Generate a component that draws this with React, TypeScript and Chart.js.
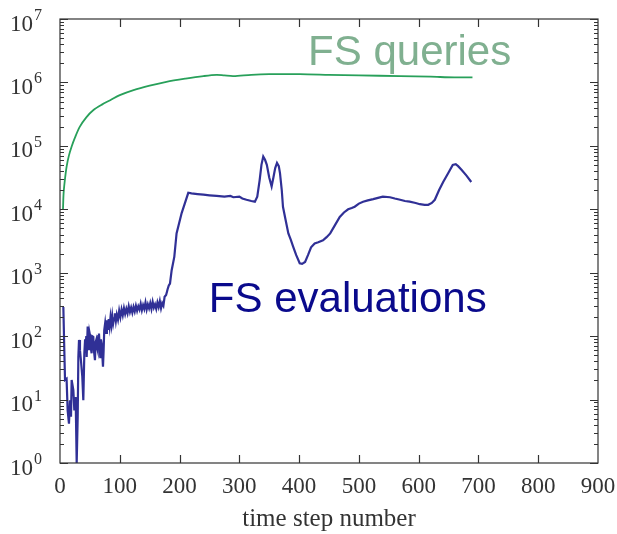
import React, { useEffect, useRef } from "react";
import { Chart, registerables } from "chart.js";
Chart.register(...registerables);

// FS queries (green): time step and log10 of count
const queriesSteps = [5, 6, 8, 11, 15, 19.5, 25, 33, 44, 56, 70, 84, 100, 123, 150, 178, 210, 240, 262, 275, 290, 320, 350, 401, 450, 500, 569, 620, 660, 690];
const queriesLog10 = [4.0, 4.25, 4.45, 4.67, 4.85, 4.99, 5.13, 5.3, 5.45, 5.565, 5.65, 5.72, 5.8, 5.88, 5.95, 6.01, 6.06, 6.1, 6.12, 6.11, 6.1, 6.12, 6.13, 6.13, 6.12, 6.11, 6.1, 6.09, 6.08, 6.08];

// FS evaluations (blue): time step and log10 of count
const evalSteps = [
  5.6, 7.2, 8.4, 11, 12.8, 15, 16.7, 18.4, 19.5, 22.3, 24, 26.2, 27.9, 29.6, 30.7, 31.8, 33.4, 35, 37.3, 39,
  40.7, 42, 42.9, 44, 44.6, 46.3, 47.5, 48.5, 49.5, 50.7, 51.8, 52.9, 54, 55.7, 57, 58.5, 59.5, 60.7, 62, 63,
  64, 65.2, 66.3, 67.4, 68.5, 69.7, 70.8, 71.9, 73, 74, 75.5, 77, 78.5, 80, 81.5, 83, 84.5, 86, 87.5, 89,
  90.5, 92, 93.5, 95, 97, 99, 101, 103, 105, 107, 109, 111, 113, 115, 117, 119, 121, 123, 125, 127,
  129, 131, 133, 135, 137, 139, 141, 143, 145, 147, 149, 151, 153, 155, 157, 159, 161, 163, 165, 167,
  169, 171, 173, 175, 177.5, 180, 182, 184, 186.8, 191.2, 195, 203.5, 214.6, 220, 230, 240, 250, 262, 275, 285,
  290, 300, 305, 312, 320, 326, 330, 334, 337, 340, 343, 346, 350, 354, 357, 360, 363, 366, 368, 371,
  373, 377, 382, 386, 390, 395, 401, 405, 410, 415, 420, 426, 432, 440, 446, 452, 460, 468, 475, 482,
  488, 493, 500, 507, 515, 524, 532, 540, 552, 560, 569, 577, 585, 595, 602, 610, 616, 622, 627, 634,
  641, 650, 657, 662, 666, 672, 680, 688
];
const evalLog10 = [
  2.46, 1.78, 1.31, 1.33, 0.83, 0.62, 0.99, 0.73, 1.31, 1.15, 0.83, 1.04, 0.0, 0.73, 1.67, 1.94, 1.78, 1.62, 1.36, 0.99,
  1.73, 1.95, 1.83, 2.0, 1.67, 2.15, 1.85, 1.78, 2.05, 1.99, 1.8, 1.73, 2.0, 1.99, 1.75, 1.62, 1.9, 1.94, 1.82, 1.78,
  2.0, 2.04, 1.85, 1.67, 1.95, 1.88, 1.7, 1.52, 1.78, 2.09, 2.2, 2.05, 2.25, 2.1, 2.27, 2.15, 2.3, 2.18, 2.32, 2.2,
  2.28, 2.36, 2.24, 2.34, 2.26, 2.4, 2.3, 2.42, 2.33, 2.44, 2.35, 2.43, 2.36, 2.47, 2.38, 2.45, 2.37, 2.46, 2.39, 2.48,
  2.4, 2.47, 2.42, 2.51, 2.41, 2.49, 2.43, 2.53, 2.42, 2.5, 2.44, 2.52, 2.43, 2.54, 2.45, 2.5, 2.43, 2.53, 2.46, 2.55,
  2.44, 2.52, 2.48, 2.62, 2.65, 2.74, 2.8, 2.83, 3.04, 3.25, 3.62, 3.94, 4.26, 4.25, 4.24, 4.23, 4.22, 4.21, 4.2, 4.21,
  4.19, 4.2, 4.17, 4.15, 4.13, 4.12, 4.2, 4.46, 4.7, 4.83, 4.78, 4.7, 4.5, 4.36, 4.5, 4.65, 4.73, 4.68, 4.57, 4.3,
  4.04, 3.85, 3.62, 3.52, 3.41, 3.28, 3.15, 3.14, 3.17, 3.28, 3.4, 3.46, 3.48, 3.51, 3.56, 3.62, 3.75, 3.88, 3.95, 4.0,
  4.02, 4.04, 4.09, 4.12, 4.14, 4.16, 4.18, 4.2, 4.19, 4.17, 4.15, 4.13, 4.12, 4.1, 4.08, 4.07, 4.07, 4.1, 4.15, 4.3,
  4.43, 4.58, 4.7, 4.71, 4.68, 4.62, 4.53, 4.43
];

const xTickValues = [0, 100, 200, 300, 400, 500, 600, 700, 800, 900];
const yDecadeExponents = [0, 1, 2, 3, 4, 5, 6, 7];
const xAxisTitle = "time step number";
const queriesLabel = { text: "FS queries", x: 415, y: 1.86e6 };
const evalsLabel = { text: "FS evaluations", x: 249, y: 241 };

const axisColor = "#333333";

const framePlugin = {
  id: "framePlugin",
  afterDraw(chart: any) {
    const ctx = chart.ctx;
    const { left, right, top, bottom } = chart.chartArea;
    const xs = chart.scales.x;
    const ys = chart.scales.y;
    ctx.save();
    ctx.strokeStyle = axisColor;
    ctx.lineWidth = 1.2;
    ctx.strokeRect(left, top, right - left, bottom - top);
    ctx.beginPath();
    xTickValues.forEach((v) => {
      if (v === 0 || v === 900) return;
      const px = Math.round(xs.getPixelForValue(v)) + 0.5;
      ctx.moveTo(px, bottom);
      ctx.lineTo(px, bottom - 8);
      ctx.moveTo(px, top);
      ctx.lineTo(px, top + 8);
    });
    yDecadeExponents.forEach((e) => {
      const py = Math.round(ys.getPixelForValue(Math.pow(10, e))) + 0.5;
      ctx.moveTo(left, py);
      ctx.lineTo(left + 8, py);
      ctx.moveTo(right, py);
      ctx.lineTo(right - 8, py);
      if (e < 7) {
        for (let m = 2; m <= 9; m++) {
          const pm = Math.round(ys.getPixelForValue(m * Math.pow(10, e))) + 0.5;
          ctx.moveTo(left, pm);
          ctx.lineTo(left + 4, pm);
          ctx.moveTo(right, pm);
          ctx.lineTo(right - 4, pm);
        }
      }
    });
    ctx.stroke();

    // y tick labels 10^e
    ctx.fillStyle = axisColor;
    ctx.textBaseline = "alphabetic";
    yDecadeExponents.forEach((e) => {
      const py = ys.getPixelForValue(Math.pow(10, e));
      ctx.font = '23px "Liberation Serif"';
      ctx.textAlign = "right";
      ctx.fillText("10", 33, py + 11.5);
      ctx.font = '16px "Liberation Serif"';
      ctx.textAlign = "left";
      ctx.fillText(String(e), 34, py + 1);
    });

    // series labels
    ctx.font = '42px "Liberation Sans"';
    ctx.textAlign = "left";
    ctx.fillStyle = "rgb(128,176,144)";
    ctx.fillText(queriesLabel.text, xs.getPixelForValue(queriesLabel.x), ys.getPixelForValue(queriesLabel.y));
    ctx.fillStyle = "rgb(10,10,140)";
    ctx.fillText(evalsLabel.text, xs.getPixelForValue(evalsLabel.x), ys.getPixelForValue(evalsLabel.y));
    ctx.restore();
  },
};

export default function App() {
  const ref = useRef<HTMLCanvasElement | null>(null);
  useEffect(() => {
    document.body.style.margin = "0";
    const canvas = ref.current;
    if (!canvas) return;
    const chart = new Chart(canvas, {
      type: "line",
      data: {
        datasets: [
          {
            label: "FS queries",
            data: queriesSteps.map((t, i) => ({ x: t, y: Math.pow(10, queriesLog10[i]) })),
            borderColor: "rgb(40,160,90)",
            borderWidth: 1.8,
            pointRadius: 0,
            tension: 0.3,
            fill: false,
          },
          {
            label: "FS evaluations",
            data: evalSteps.map((t, i) => ({ x: t, y: Math.pow(10, evalLog10[i]) })),
            borderColor: "rgb(48,48,150)",
            borderWidth: 2.2,
            pointRadius: 0,
            tension: 0,
            fill: false,
          },
        ],
      },
      options: {
        animation: false,
        responsive: false,
        devicePixelRatio: 1,
        layout: { padding: { top: 19, right: 19, left: 0, bottom: 0 } },
        plugins: { legend: { display: false }, tooltip: { enabled: false } },
        scales: {
          x: {
            type: "linear",
            min: 0,
            max: 900,
            afterBuildTicks: (scale: any) => {
              scale.ticks = xTickValues.map((v) => ({ value: v }));
            },
            ticks: {
              font: { family: "Liberation Serif", size: 23 },
              color: axisColor,
              padding: 10,
              maxRotation: 0,
            },
            grid: { display: false, drawTicks: false },
            border: { display: false },
            title: {
              display: true,
              text: xAxisTitle,
              font: { family: "Liberation Serif", size: 25 },
              color: axisColor,
              padding: { top: 0, bottom: 0 },
            },
            afterFit: (scale: any) => {
              scale.height = 71;
              scale.paddingLeft = 0;
              scale.paddingRight = 0;
            },
          },
          y: {
            type: "logarithmic",
            min: 1,
            max: 1e7,
            ticks: { display: false },
            grid: { display: false, drawTicks: false },
            border: { display: false },
            afterFit: (scale: any) => {
              scale.width = 60;
            },
          },
        },
      },
      plugins: [framePlugin],
    });
    return () => chart.destroy();
  }, []);
  return (
    <div style={{ width: 617, height: 534, background: "#fff" }}>
      <canvas ref={ref} width={617} height={534} style={{ display: "block" }} />
    </div>
  );
}
